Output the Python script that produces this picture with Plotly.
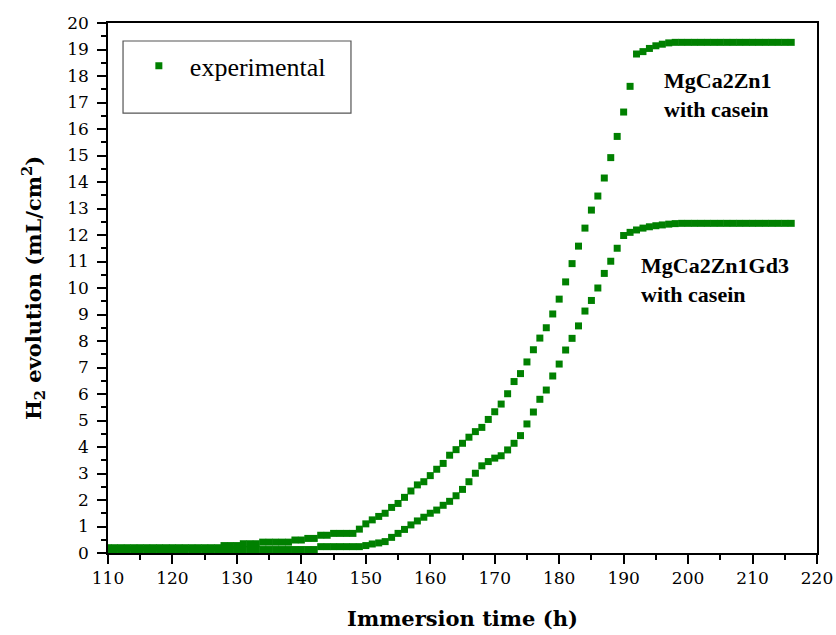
import plotly.graph_objects as go

hours = [110, 111, 112, 113, 114, 115, 116, 117, 118, 119,
         120, 121, 122, 123, 124, 125, 126, 127, 128, 129,
         130, 131, 132, 133, 134, 135, 136, 137, 138, 139,
         140, 141, 142, 143, 144, 145, 146, 147, 148, 149,
         150, 151, 152, 153, 154, 155, 156, 157, 158, 159,
         160, 161, 162, 163, 164, 165, 166, 167, 168, 169,
         170, 171, 172, 173, 174, 175, 176, 177, 178, 179,
         180, 181, 182, 183, 184, 185, 186, 187, 188, 189,
         190, 191, 192, 193, 194, 195, 196, 197, 198, 199,
         200, 201, 202, 203, 204, 205, 206, 207, 208, 209,
         210, 211, 212, 213, 214, 215, 216]

# MgCa2Zn1 with casein
h2_mgca2zn1 = [0.20, 0.20, 0.20, 0.20, 0.20, 0.20, 0.20, 0.20, 0.20, 0.20,
               0.20, 0.20, 0.20, 0.20, 0.20, 0.20, 0.20, 0.20, 0.28, 0.28,
               0.28, 0.35, 0.35, 0.35, 0.41, 0.41, 0.41, 0.41, 0.41, 0.49,
               0.49, 0.55, 0.55, 0.67, 0.67, 0.74, 0.74, 0.74, 0.74, 0.90,
               1.10, 1.25, 1.38, 1.50, 1.72, 1.87, 2.10, 2.34, 2.57, 2.69,
               2.92, 3.16, 3.38, 3.69, 3.90, 4.14, 4.37, 4.58, 4.74, 5.04,
               5.33, 5.62, 6.01, 6.47, 6.77, 7.21, 7.67, 8.11, 8.50, 9.02,
               9.58, 10.23, 10.92, 11.58, 12.26, 12.94, 13.47, 14.15, 14.92, 15.72,
               16.64, 17.61, 18.83, 18.92, 19.04, 19.14, 19.20, 19.25, 19.27, 19.27,
               19.27, 19.27, 19.27, 19.27, 19.27, 19.27, 19.27, 19.27, 19.27, 19.27,
               19.27, 19.27, 19.27, 19.27, 19.27, 19.27, 19.27]

# MgCa2Zn1Gd3 with casein
h2_mgca2zn1gd3 = [0.13, 0.13, 0.13, 0.13, 0.13, 0.13, 0.13, 0.13, 0.13, 0.13,
                  0.13, 0.13, 0.13, 0.13, 0.13, 0.13, 0.13, 0.13, 0.13, 0.13,
                  0.13, 0.13, 0.13, 0.13, 0.13, 0.13, 0.13, 0.13, 0.13, 0.13,
                  0.13, 0.13, 0.13, 0.24, 0.24, 0.24, 0.24, 0.24, 0.24, 0.24,
                  0.28, 0.34, 0.38, 0.43, 0.59, 0.74, 0.89, 1.06, 1.21, 1.35,
                  1.50, 1.62, 1.80, 1.95, 2.16, 2.40, 2.69, 3.01, 3.29, 3.45,
                  3.58, 3.67, 3.89, 4.14, 4.43, 4.87, 5.32, 5.80, 6.15, 6.68,
                  7.13, 7.66, 8.10, 8.57, 9.13, 9.53, 10.00, 10.55, 11.01, 11.50,
                  11.98, 12.10, 12.19, 12.26, 12.31, 12.35, 12.38, 12.41, 12.43, 12.44,
                  12.44, 12.44, 12.44, 12.44, 12.44, 12.44, 12.44, 12.44, 12.44, 12.44,
                  12.44, 12.44, 12.44, 12.44, 12.44, 12.44, 12.44]

x_ticks = [110, 120, 130, 140, 150, 160, 170, 180, 190, 200, 210, 220]
y_ticks = [0, 1, 2, 3, 4, 5, 6, 7, 8, 9, 10, 11, 12, 13, 14, 15, 16, 17, 18, 19, 20]

PAL = "DejaVu Serif"       # Palatino-like text (ticks, titles)
TIMES = "Liberation Serif"  # Times-like text (legend, labels)
GREEN = "#008000"

fig = go.Figure()
fig.add_trace(go.Scatter(x=hours, y=h2_mgca2zn1, mode="markers", name="experimental",
                         marker=dict(symbol="square", size=7, color=GREEN),
                         showlegend=True))
fig.add_trace(go.Scatter(x=hours, y=h2_mgca2zn1gd3, mode="markers", name="experimental",
                         marker=dict(symbol="square", size=7, color=GREEN),
                         showlegend=False))

axis_common = dict(showline=True, linecolor="black", linewidth=1.5, mirror=True,
                   showgrid=False, zeroline=False, ticks="outside", tickcolor="black",
                   tickwidth=1.5, automargin=False,
                   tickfont=dict(family=PAL, size=17, color="black"))

fig.update_xaxes(range=[110, 220], tickvals=x_ticks, ticklen=9,
                 minor=dict(dtick=5, ticklen=5, ticks="outside", tickcolor="black", tickwidth=1.5),
                 title=dict(text="<b>Immersion time (h)</b>", standoff=24,
                            font=dict(family=PAL, size=21, color="black")),
                 **axis_common)
fig.update_yaxes(range=[0, 20], tickvals=y_ticks, ticklen=9, ticklabelstandoff=5,
                 minor=dict(dtick=0.5, ticklen=5, ticks="outside", tickcolor="black", tickwidth=1.5),
                 title=dict(text="<b>H<sub>2</sub> evolution (mL/cm<sup>2</sup>)</b>", standoff=20,
                            font=dict(family=PAL, size=21, color="black")),
                 **axis_common)

fig.add_shape(type="rect", xref="paper", yref="paper", x0=0.0212, x1=0.3427, y0=0.830, y1=0.966,
              line=dict(color="#555555", width=1.2), fillcolor="rgba(0,0,0,0)")

fig.add_annotation(xref="paper", yref="paper", x=0.782, y=0.865, xanchor="left", yanchor="middle",
                   align="left", showarrow=False,
                   text="<b>MgCa2Zn1</b><br><b>with casein</b>",
                   font=dict(family=TIMES, size=22, color="black"))
fig.add_annotation(xref="paper", yref="paper", x=0.749, y=0.515, xanchor="left", yanchor="middle",
                   align="left", showarrow=False,
                   text="<b>MgCa2Zn1Gd3</b><br><b>with casein</b>",
                   font=dict(family=TIMES, size=22, color="black"))

fig.update_layout(
    width=836, height=635,
    margin=dict(l=108, r=19, t=23, b=82),
    paper_bgcolor="white", plot_bgcolor="white",
    legend=dict(x=0.028, y=0.919, xanchor="left", yanchor="middle",
                bgcolor="rgba(0,0,0,0)", borderwidth=0, itemwidth=52,
                font=dict(family=TIMES, size=26, color="black")),
)

fig.write_html("out.html")
